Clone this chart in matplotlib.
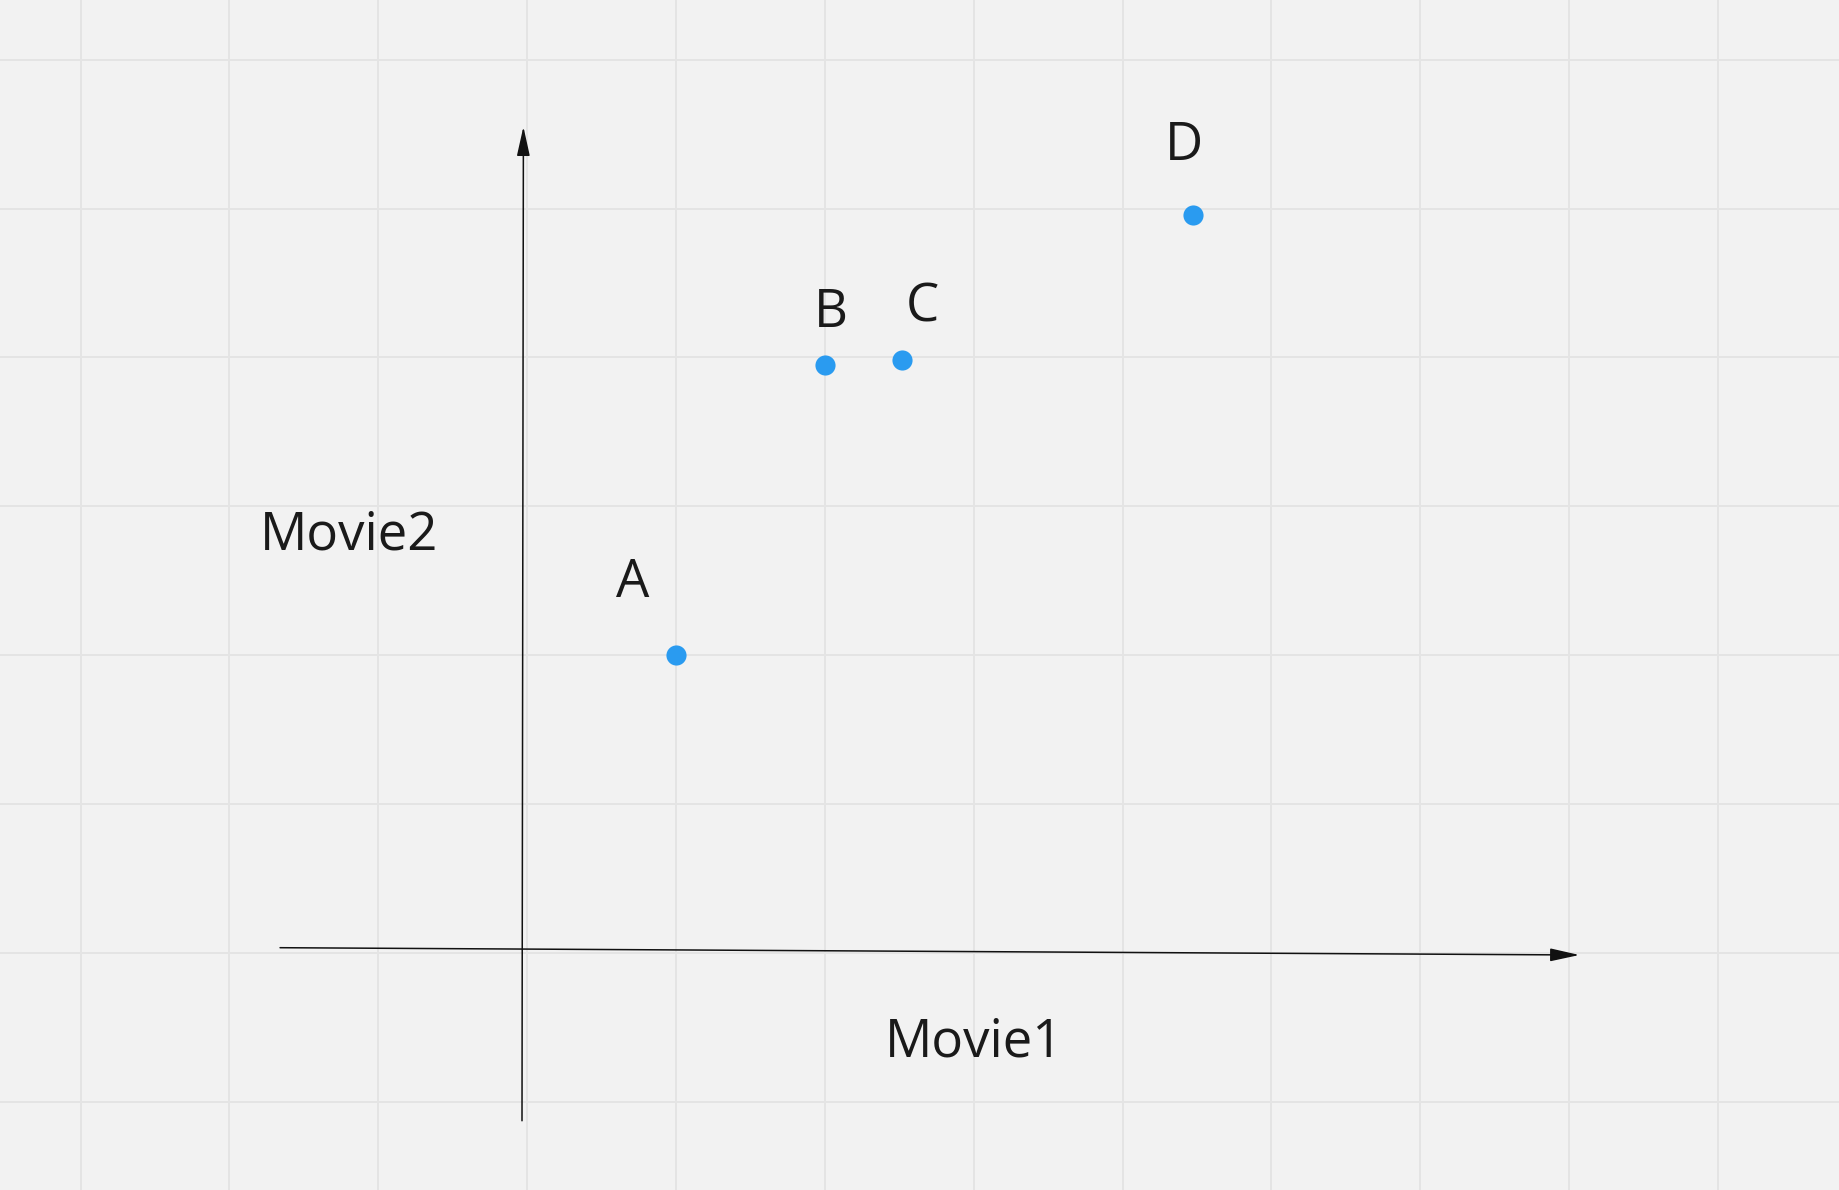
import matplotlib
matplotlib.use("Agg")
import matplotlib.pyplot as plt
from matplotlib.patches import FancyArrowPatch

# Data (grid units)
names = ["A", "B", "C", "D"]
xs = [1.0, 2.0, 2.52, 4.47]
ys = [2.0, 3.95, 3.98, 4.96]
label_x = [0.711, 2.04, 2.655, 4.413]
label_y = [2.393, 4.202, 4.241, 5.327]
xlabel = "Movie1"
ylabel = "Movie2"

plt.rcParams['font.family'] = ['Open Sans', 'DejaVu Sans']

fig = plt.figure(figsize=(18.4, 11.9), dpi=100)
fig.patch.set_facecolor("#f2f2f2")
ax = fig.add_axes([0, 0, 1, 1])
ax.set_facecolor("#f2f2f2")
ax.set_xlim(-3.5415, 8.820)
ax.set_ylim(-1.5932, 6.4014)
for s in ax.spines.values():
    s.set_visible(False)
ax.set_xticks(range(-3, 9))
ax.set_yticks(range(-1, 7))
ax.tick_params(length=0, labelbottom=False, labelleft=False)
ax.grid(True, color="#e4e4e4", linewidth=1.4)
ax.set_axisbelow(True)

# axes arrows
ax.add_patch(FancyArrowPatch((-0.0346, -1.128), (-0.0252, 5.550),
                             arrowstyle="-|>,head_length=0.9,head_width=0.2",
                             mutation_scale=20, color="#111111", lw=1.1,
                             shrinkA=0, shrinkB=0))
ax.add_patch(FancyArrowPatch((-1.660, 0.0346), (7.069, -0.0144),
                             arrowstyle="-|>,head_length=0.9,head_width=0.2",
                             mutation_scale=20, color="#111111", lw=1.1,
                             shrinkA=0, shrinkB=0))

ax.plot(xs, ys, 'o', color="#2a9bf0", markersize=14.5, markeredgewidth=0, zorder=5)

fs = 38
for n, lx, ly in zip(names, label_x, label_y):
    ax.text(lx, ly, n, fontsize=fs, ha='center', va='baseline', color="#1a1a1a")

ax.text(3.002, -0.694, xlabel, fontsize=fs, ha='center', va='baseline', color="#1a1a1a")
ax.text(-1.197, 2.711, ylabel, fontsize=fs, ha='center', va='baseline', color="#1a1a1a")

fig.savefig("out.png", dpi=100, facecolor=fig.get_facecolor())
